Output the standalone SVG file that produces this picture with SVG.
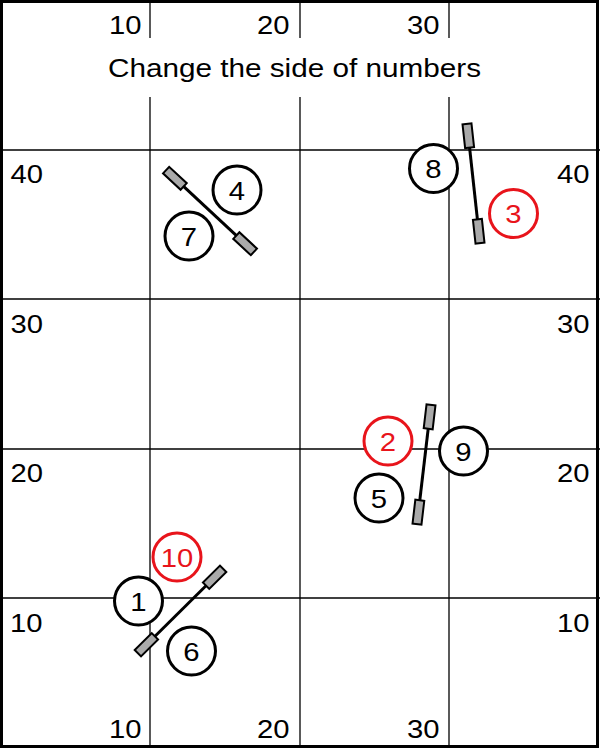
<svg xmlns="http://www.w3.org/2000/svg" width="600" height="749" viewBox="0 0 600 749">
<style>
.grid{stroke:#000;stroke-width:1.3;fill:none}
.lbl{font-family:"Liberation Sans",Arial,sans-serif;font-size:25px;fill:#000}
.nd circle{fill:#fff;stroke:#000;stroke-width:3}
.nd text{font-family:"Liberation Sans",Arial,sans-serif;font-size:25px;fill:#000;text-anchor:middle}
.red circle{stroke:#e8141b}
.red text{fill:#e8141b}
</style>
<defs>
<g id="barShape">
<line x1="-60" y1="0" x2="60" y2="0" stroke="#000" stroke-width="3"/>
<rect x="-60" y="-4.5" width="24" height="9" fill="#aaa" stroke="#000" stroke-width="2"/>
<rect x="36" y="-4.5" width="24" height="9" fill="#aaa" stroke="#000" stroke-width="2"/>
</g>
</defs>
<rect x="0" y="0" width="600" height="749" fill="#fff"/>
<g id="grid" class="grid">
<line x1="150" y1="0" x2="150" y2="38"/>
<line x1="300" y1="0" x2="300" y2="38"/>
<line x1="449" y1="0" x2="449" y2="38"/>
<line x1="150" y1="97" x2="150" y2="747"/>
<line x1="300" y1="97" x2="300" y2="747"/>
<line x1="449" y1="97" x2="449" y2="747"/>
<line x1="0" y1="150" x2="600" y2="150"/>
<line x1="0" y1="299" x2="600" y2="299"/>
<line x1="0" y1="449" x2="600" y2="449"/>
<line x1="0" y1="598" x2="600" y2="598"/>
</g>
<rect x="1.5" y="1.5" width="596" height="745" fill="none" stroke="#000" stroke-width="3"/>
<g id="labels" class="lbl">
<text x="108" y="77" textLength="373" lengthAdjust="spacingAndGlyphs">Change the side of numbers</text>
<text x="141.5" y="34" text-anchor="end" textLength="32.5" lengthAdjust="spacingAndGlyphs">10</text>
<text x="289.5" y="34" text-anchor="end" textLength="32.5" lengthAdjust="spacingAndGlyphs">20</text>
<text x="439.5" y="34" text-anchor="end" textLength="32.5" lengthAdjust="spacingAndGlyphs">30</text>
<text x="141.5" y="738" text-anchor="end" textLength="32.5" lengthAdjust="spacingAndGlyphs">10</text>
<text x="289.5" y="738" text-anchor="end" textLength="32.5" lengthAdjust="spacingAndGlyphs">20</text>
<text x="439.5" y="738" text-anchor="end" textLength="32.5" lengthAdjust="spacingAndGlyphs">30</text>
<text x="10.5" y="183" textLength="32.5" lengthAdjust="spacingAndGlyphs">40</text>
<text x="10.5" y="333" textLength="32.5" lengthAdjust="spacingAndGlyphs">30</text>
<text x="10.5" y="482" textLength="32.5" lengthAdjust="spacingAndGlyphs">20</text>
<text x="10" y="632" textLength="32.5" lengthAdjust="spacingAndGlyphs">10</text>
<text x="589.5" y="183" text-anchor="end" textLength="32.5" lengthAdjust="spacingAndGlyphs">40</text>
<text x="589.5" y="333" text-anchor="end" textLength="32.5" lengthAdjust="spacingAndGlyphs">30</text>
<text x="589.5" y="482" text-anchor="end" textLength="32.5" lengthAdjust="spacingAndGlyphs">20</text>
<text x="589.5" y="632" text-anchor="end" textLength="32.5" lengthAdjust="spacingAndGlyphs">10</text>
</g>
<g id="connectors">
<use href="#barShape" transform="translate(210,211) rotate(42.98)"/>
<use href="#barShape" transform="translate(473.5,183.5) rotate(83.77)"/>
<use href="#barShape" transform="translate(424,464.5) rotate(96.7)"/>
<use href="#barShape" transform="translate(180.5,611) rotate(135.3)"/>
</g>
<g id="node-4" class="nd"><circle cx="237" cy="190" r="24"/><text x="237" y="199.5" textLength="16.3" lengthAdjust="spacingAndGlyphs">4</text></g>
<g id="node-7" class="nd"><circle cx="189" cy="236" r="24"/><text x="189" y="245.5" textLength="16.3" lengthAdjust="spacingAndGlyphs">7</text></g>
<g id="node-8" class="nd"><circle cx="433.5" cy="168.5" r="24"/><text x="433.5" y="178" textLength="16.3" lengthAdjust="spacingAndGlyphs">8</text></g>
<g id="node-3" class="nd red"><circle cx="513.5" cy="213.5" r="24"/><text x="513.5" y="223" textLength="16.3" lengthAdjust="spacingAndGlyphs">3</text></g>
<g id="node-2" class="nd red"><circle cx="388" cy="441" r="24"/><text x="388" y="450.5" textLength="16.3" lengthAdjust="spacingAndGlyphs">2</text></g>
<g id="node-9" class="nd"><circle cx="463.5" cy="451" r="24"/><text x="463.5" y="460.5" textLength="16.3" lengthAdjust="spacingAndGlyphs">9</text></g>
<g id="node-5" class="nd"><circle cx="379" cy="498" r="24"/><text x="379" y="507.5" textLength="16.3" lengthAdjust="spacingAndGlyphs">5</text></g>
<g id="node-10" class="nd red"><circle cx="177" cy="557" r="24"/><text x="177" y="566.5" textLength="32.5" lengthAdjust="spacingAndGlyphs">10</text></g>
<g id="node-1" class="nd"><circle cx="138.5" cy="601" r="24"/><text x="138.5" y="610.5" textLength="16.3" lengthAdjust="spacingAndGlyphs">1</text></g>
<g id="node-6" class="nd"><circle cx="191.5" cy="651" r="24"/><text x="191.5" y="660.5" textLength="16.3" lengthAdjust="spacingAndGlyphs">6</text></g>
</svg>
